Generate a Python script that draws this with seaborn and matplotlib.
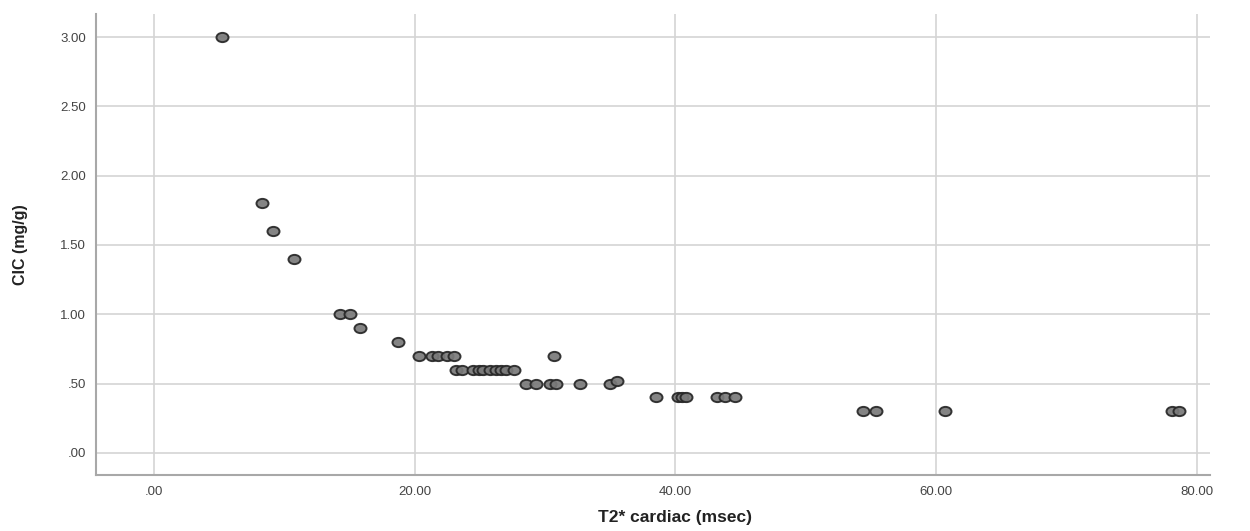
import numpy as np
import pandas as pd
import matplotlib
matplotlib.use("Agg")
import matplotlib.pyplot as plt
from matplotlib.ticker import FuncFormatter, FixedLocator
from matplotlib.path import Path
from matplotlib.transforms import Affine2D
import seaborn as sns

# T2* cardiac (msec) vs CIC (mg/g)
t2_cardiac = [
    5.2, 8.3, 9.1, 10.7,
    14.3, 15.0, 15.8, 18.7,
    20.3, 21.3, 21.8, 22.5, 23.0,
    23.2, 23.6, 24.5, 24.9, 25.2, 25.8, 26.2, 26.6, 27.0, 27.6,
    30.7,
    28.5, 29.3, 30.4, 30.8, 32.7, 35.0, 35.5,
    38.5, 40.2, 40.5, 40.8, 43.2, 43.8, 44.6,
    54.4, 55.4, 60.7, 78.1, 78.6,
]
cic = [
    3.00, 1.80, 1.60, 1.40,
    1.00, 1.00, 0.90, 0.80,
    0.70, 0.70, 0.70, 0.70, 0.70,
    0.60, 0.60, 0.60, 0.60, 0.60, 0.60, 0.60, 0.60, 0.60, 0.60,
    0.70,
    0.50, 0.50, 0.50, 0.50, 0.50, 0.50, 0.52,
    0.40, 0.40, 0.40, 0.40, 0.40, 0.40, 0.40,
    0.30, 0.30, 0.30, 0.30, 0.30,
]
x_ticks = [0, 20, 40, 60, 80]
y_ticks = [0.0, 0.5, 1.0, 1.5, 2.0, 2.5, 3.0]

df = pd.DataFrame({"T2* cardiac (msec)": t2_cardiac, "CIC (mg/g)": cic})

sns.set_theme(style="white")
plt.rcParams["font.family"] = ["Liberation Sans", "DejaVu Sans"]


def spss_fmt(v, pos=None):
    s = f"{v:.2f}"
    if s.startswith("0."):
        s = s[1:]
    return s


# slightly wide oval marker, like the stretched SPSS dots
oval = Path.unit_circle().transformed(Affine2D().scale(1.3, 1.0))

fig = plt.figure(figsize=(12.5, 5.31), dpi=100)
ax = fig.add_axes([0.0768, 0.1055, 0.8912, 0.868])

sns.scatterplot(
    data=df, x="T2* cardiac (msec)", y="CIC (mg/g)", ax=ax,
    marker=oval, s=75, color="#7a7a7a", edgecolor="#262626", linewidth=1.4,
    alpha=0.92, zorder=3,
)

ax.set_xlim(-4.45, 81.0)
ax.set_ylim(-0.16, 3.166)
ax.xaxis.set_major_locator(FixedLocator(x_ticks))
ax.yaxis.set_major_locator(FixedLocator(y_ticks))
ax.xaxis.set_major_formatter(FuncFormatter(spss_fmt))
ax.yaxis.set_major_formatter(FuncFormatter(spss_fmt))
ax.grid(True, color="#d4d4d4", linewidth=1.2, zorder=0)
ax.set_axisbelow(True)

for side in ["top", "right"]:
    ax.spines[side].set_visible(False)
for side in ["left", "bottom"]:
    ax.spines[side].set_color("#a8a8a8")
    ax.spines[side].set_linewidth(1.5)

ax.tick_params(axis="both", length=0, labelsize=9.5, colors="#444444")
ax.tick_params(axis="x", pad=8)
ax.tick_params(axis="y", pad=7)

ax.set_xlabel("T2* cardiac (msec)", fontsize=12.5, fontweight="bold", color="#222222")
ax.xaxis.set_label_coords(0.52, -0.076)
ax.set_ylabel("CIC (mg/g)", fontsize=11.5, fontweight="bold", color="#222222")
ax.yaxis.set_label_coords(-0.061, 0.5)

fig.savefig("out.png", dpi=100, facecolor="white")
